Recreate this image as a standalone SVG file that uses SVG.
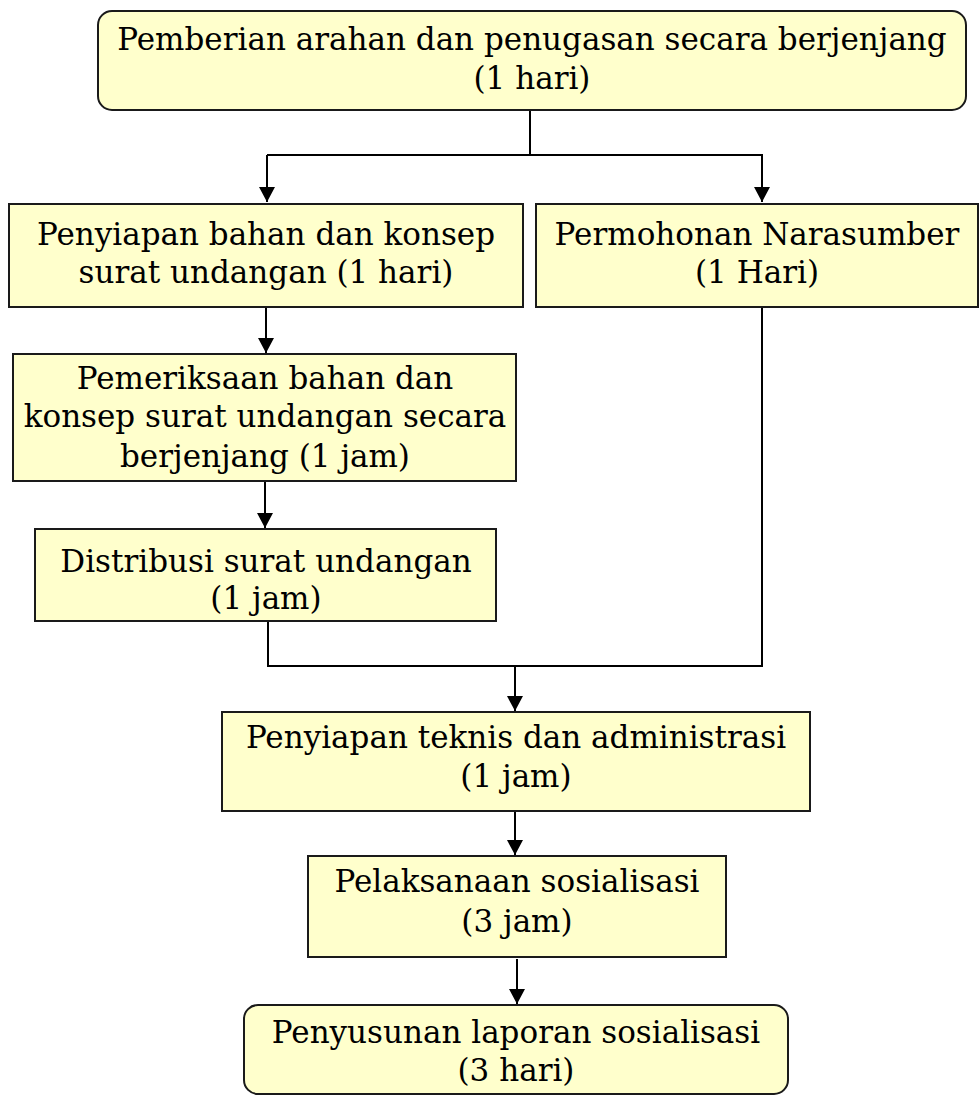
<svg xmlns="http://www.w3.org/2000/svg" width="979" height="1095" viewBox="0 0 979 1095">
<style>
.box{fill:#FFFFCC;stroke:#1a1a1a;stroke-width:2}
.t{font-family:"DejaVu Serif","Liberation Serif",serif;font-size:31px;fill:#000;text-anchor:middle}
.c{fill:none;stroke:#000;stroke-width:2}
</style>
<defs>
<marker id="ah" markerWidth="15" markerHeight="16" refX="15" refY="8" orient="auto" markerUnits="userSpaceOnUse" viewBox="0 0 15 16">
<path d="M0,0 L15,8 L0,16 z" fill="#000"/>
</marker>
</defs>
<rect width="979" height="1095" fill="#fff"/>
<g id="connectors">
<path class="c" d="M530,110 V155"/>
<path class="c" d="M267,155 H763"/>
<path class="c" d="M267,155 V202" marker-end="url(#ah)"/>
<path class="c" d="M762,155 V202" marker-end="url(#ah)"/>
<path class="c" d="M266,307 V353" marker-end="url(#ah)"/>
<path class="c" d="M265,481 V528" marker-end="url(#ah)"/>
<path class="c" d="M268,621 V666 H762 V307"/>
<path class="c" d="M515,666 V711" marker-end="url(#ah)"/>
<path class="c" d="M515,811 V855" marker-end="url(#ah)"/>
<path class="c" d="M517,959 V1004" marker-end="url(#ah)"/>
</g>
<g id="n1">
<rect class="box" x="98" y="11" width="868" height="99" rx="14"/>
<text class="t" x="532" y="50">Pemberian arahan dan penugasan secara berjenjang</text>
<text class="t" x="532" y="89">(1 hari)</text>
</g>
<g id="n2">
<rect class="box" x="9" y="204" width="514" height="103"/>
<text class="t" x="266" y="245">Penyiapan bahan dan konsep</text>
<text class="t" x="266" y="283">surat undangan (1 hari)</text>
</g>
<g id="n3">
<rect class="box" x="536" y="204" width="442" height="103"/>
<text class="t" x="757" y="245">Permohonan Narasumber</text>
<text class="t" x="757" y="283">(1 Hari)</text>
</g>
<g id="n4">
<rect class="box" x="13" y="354" width="503" height="127"/>
<text class="t" x="265" y="389">Pemeriksaan bahan dan</text>
<text class="t" x="265" y="427">konsep surat undangan secara</text>
<text class="t" x="265" y="467">berjenjang (1 jam)</text>
</g>
<g id="n5">
<rect class="box" x="35" y="529" width="461" height="92"/>
<text class="t" x="266" y="572">Distribusi surat undangan</text>
<text class="t" x="266" y="609">(1 jam)</text>
</g>
<g id="n6">
<rect class="box" x="222" y="712" width="588" height="99"/>
<text class="t" x="516" y="748">Penyiapan teknis dan administrasi</text>
<text class="t" x="516" y="787">(1 jam)</text>
</g>
<g id="n7">
<rect class="box" x="308" y="856" width="418" height="101"/>
<text class="t" x="517" y="892">Pelaksanaan sosialisasi</text>
<text class="t" x="517" y="932">(3 jam)</text>
</g>
<g id="n8">
<rect class="box" x="244" y="1005" width="544" height="89" rx="14"/>
<text class="t" x="516" y="1043">Penyusunan laporan sosialisasi</text>
<text class="t" x="516" y="1081">(3 hari)</text>
</g>
</svg>
